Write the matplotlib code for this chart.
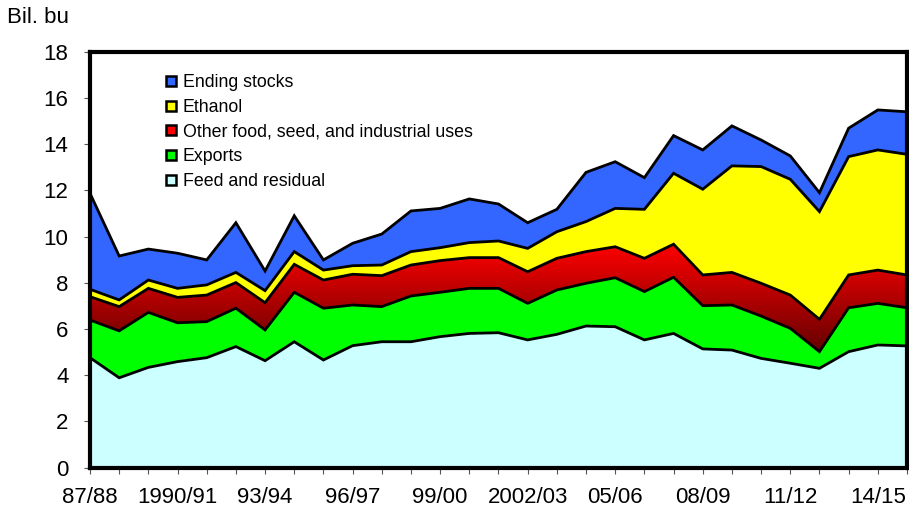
import numpy as np
import matplotlib
matplotlib.use('Agg')
import matplotlib.pyplot as plt
from matplotlib.lines import Line2D
from matplotlib.colors import LinearSegmentedColormap

plt.rcParams['font.family'] = ['Liberation Sans', 'DejaVu Sans']

# Marketing years 1987/88 .. 2015/16
years = ['87/88', '88/89', '89/90', '1990/91', '91/92', '92/93', '93/94', '94/95',
         '95/96', '96/97', '97/98', '98/99', '99/00', '2000/01', '01/02', '2002/03',
         '03/04', '04/05', '05/06', '06/07', '07/08', '08/09', '09/10', '10/11',
         '11/12', '12/13', '13/14', '14/15', '15/16']

# Bil. bu
feed = [4.76, 3.89, 4.34, 4.59, 4.76, 5.24, 4.63, 5.45, 4.66, 5.28, 5.45, 5.45, 5.67, 5.81,
        5.84, 5.53, 5.77, 6.13, 6.10, 5.53, 5.81, 5.14, 5.09, 4.73, 4.52, 4.30, 5.02, 5.31, 5.27]
exports = [1.63, 2.03, 2.38, 1.68, 1.56, 1.66, 1.33, 2.14, 2.24, 1.76, 1.52, 1.98, 1.92, 1.95,
           1.92, 1.58, 1.92, 1.85, 2.12, 2.09, 2.43, 1.87, 1.95, 1.83, 1.51, 0.72, 1.90, 1.80, 1.65]
other_fsi = [1.01, 1.05, 1.04, 1.10, 1.15, 1.11, 1.18, 1.21, 1.22, 1.33, 1.34, 1.34, 1.37, 1.33,
             1.33, 1.37, 1.37, 1.37, 1.34, 1.44, 1.43, 1.33, 1.41, 1.42, 1.44, 1.40, 1.42, 1.44, 1.42]
ethanol = [0.32, 0.29, 0.36, 0.39, 0.44, 0.44, 0.52, 0.55, 0.43, 0.37, 0.46, 0.58, 0.56, 0.65,
           0.72, 1.01, 1.15, 1.30, 1.66, 2.12, 3.07, 3.71, 4.61, 5.05, 5.01, 4.66, 5.12, 5.20, 5.22]
stocks = [4.15, 1.90, 1.34, 1.52, 1.08, 2.15, 0.85, 1.55, 0.44, 0.97, 1.34, 1.76, 1.70, 1.89,
          1.60, 1.11, 0.97, 2.13, 2.02, 1.37, 1.63, 1.70, 1.73, 1.15, 1.01, 0.82, 1.23, 1.73, 1.84]

labels = ['Feed and residual', 'Exports', 'Other food, seed, and industrial uses',
          'Ethanol', 'Ending stocks']
colors = ['#CCFFFF', '#00FF00', '#FF0000', '#FFFF00', '#3366FF']

x = np.arange(len(years))
layers = np.array([feed, exports, other_fsi, ethanol, stocks])
tops = np.cumsum(layers, axis=0)
bottoms = np.vstack([np.zeros(len(years)), tops[:-1]])

fig = plt.figure(figsize=(9.09, 5.12), dpi=100)
ax = fig.add_axes([90 / 909, 1 - 467.7 / 512, 817 / 909, 416 / 512])

for i in range(len(layers)):
    if i == 2:
        # gradient fill for the red band
        poly = ax.fill_between(x, bottoms[i], tops[i], facecolor='none', edgecolor='none')
        cmap = LinearSegmentedColormap.from_list('reds', ['#640000', '#FF0000'])
        lo, hi = bottoms[i].min(), tops[i].max()
        grad = np.linspace(0, 1, 256).reshape(-1, 1)
        img = ax.imshow(grad, cmap=cmap, origin='lower', aspect='auto',
                        extent=[x[0], x[-1], lo, hi], zorder=1)
        path = poly.get_paths()[0]
        img.set_clip_path(path, transform=ax.transData)
    else:
        ax.fill_between(x, bottoms[i], tops[i], facecolor=colors[i], edgecolor='none', zorder=1)
    ax.plot(x, tops[i], color='black', lw=2, zorder=3, solid_joinstyle='miter')

ax.set_xlim(0, len(years) - 1)
ax.set_ylim(0, 18)
ax.set_yticks(np.arange(0, 19, 2))
ax.set_xticks(x)
ax.set_xticklabels([y if i % 3 == 0 else '' for i, y in enumerate(years)])
ax.tick_params(axis='both', labelsize=16, length=4, width=0.8, direction='out', color='#555555')
ax.tick_params(axis='x', pad=10)
ax.tick_params(axis='y', pad=11.5)
for s in ax.spines.values():
    s.set_linewidth(3)
    s.set_zorder(5)

fig.text(7 / 909, 1 - 23 / 512, 'Bil. bu', fontsize=16, ha='left', va='baseline')

handles = [Line2D([], [], ls='none', marker='s', markersize=7.5, markerfacecolor=colors[i],
                  markeredgecolor='black', markeredgewidth=1.8) for i in range(4, -1, -1)]
ax.legend(handles, labels[::-1], loc='upper left', bbox_to_anchor=(164 / 909, 1 - 74 / 512),
          bbox_transform=fig.transFigure, frameon=False, fontsize=12.8, labelspacing=0.44,
          handlelength=0.8, handletextpad=0.25, borderpad=0, borderaxespad=0)

fig.savefig('out.png', dpi=100)
